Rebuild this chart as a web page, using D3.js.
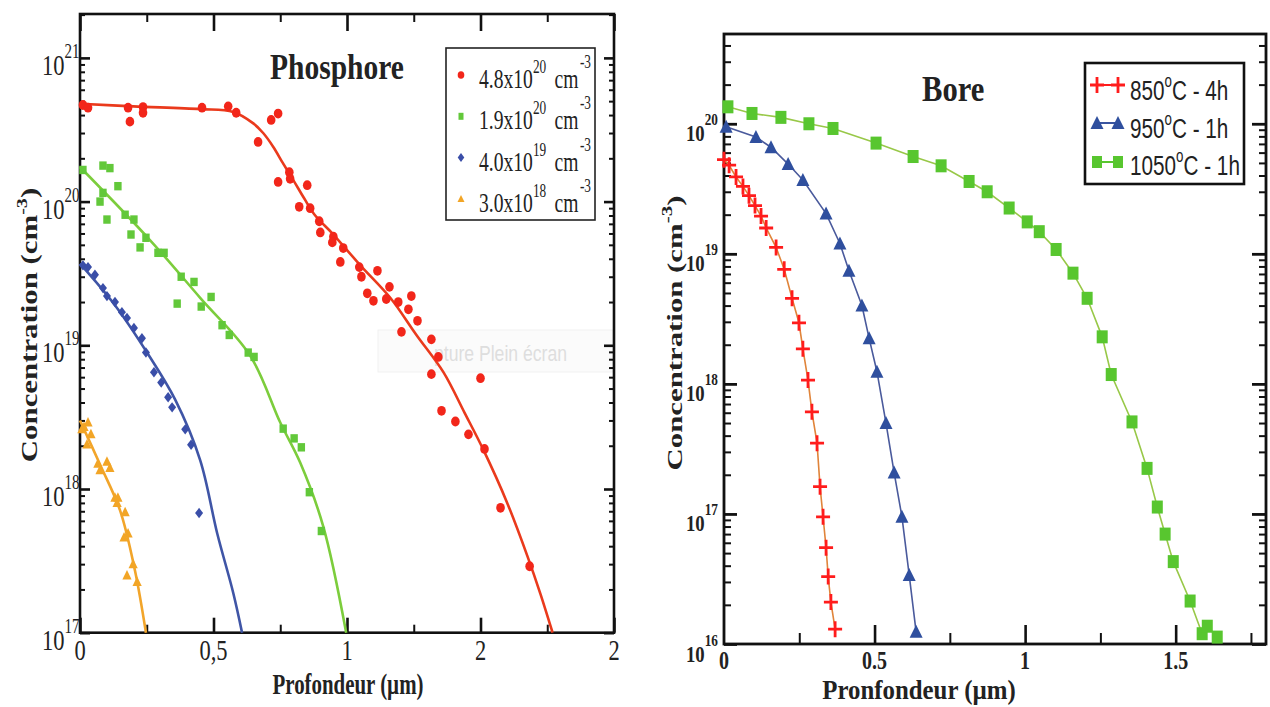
<!DOCTYPE html>
<html><head><meta charset="utf-8">
<script src="https://cdn.jsdelivr.net/npm/d3@7"></script>
<style>body{margin:0;background:#fff}svg{display:block}</style>
</head><body><svg id="c" width="1270" height="707"></svg>
<script>
// ---------------- DATA ----------------
// Left chart: Phosphore  [depth (µm), concentration (cm^-3)]
const phosLegend = [["4.8","20"],["1.9","20"],["4.0","19"],["3.0","18"]];
const phosXTickValues = [0, 0.5, 1, 1.5, 2];
const phosXTickLabels = ["0", "0,5", "1", "2", "2"];
const phosYTickValues = [1e17, 1e18, 1e19, 1e20, 1e21];
const phosYTickExp = ["17", "18", "19", "20", "21"];

const p48Points = [[0.011,4.7e20],[0.03,4.5e20],[0.18,4.5e20],[0.187,3.6e20],[0.236,4.55e20],[0.236,4.15e20],
 [0.457,4.5e20],[0.555,4.6e20],[0.585,4.15e20],[0.667,2.6e20],[0.716,3.7e20],[0.742,4.1e20],[0.742,1.37e20],
 [0.784,1.6e20],[0.787,1.44e20],[0.851,1.3e20],[0.821,9.2e19],[0.862,9.0e19],[0.896,7.3e19],[0.9,6.1e19],
 [0.949,5.7e19],[0.945,5.2e19],[0.986,4.75e19],[0.975,3.8e19],[1.046,3.5e19],[1.054,3.0e19],[1.114,3.3e19],
 [1.076,2.3e19],[1.099,2.04e19],[1.147,2.1e19],[1.159,2.55e19],[1.192,2.0e19],[1.23,1.78e19],[1.241,2.2e19],
 [1.264,1.48e19],[1.204,1.24e19],[1.316,1.1e19],[1.342,8.3e18],[1.316,6.3e18],[1.5,5.9e18],[1.354,3.5e18],
 [1.406,2.95e18],[1.455,2.4e18],[1.515,1.9e18],[1.575,7.4e17],[1.684,2.9e17]];
const p48Fit = [[0,4.8e20],[0.2,4.6e20],[0.45,4.4e20],[0.574,4.2e20],[0.649,3.5e20],[0.686,3.0e20],[0.724,2.4e20],
 [0.76,1.85e20],[0.8,1.4e20],[0.84,1.05e20],[0.881,8.0e19],[0.949,5.9e19],[1.05,3.6e19],[1.162,2.14e19],
 [1.26,1.18e19],[1.361,6.5e18],[1.44,3.4e18],[1.511,1.87e18],[1.6,8.0e17],[1.676,3.4e17],[1.725,1.85e17],[1.77,1e17]];

const p19Points = [[0.011,1.66e20],[0.086,1.78e20],[0.112,1.71e20],[0.142,1.28e20],[0.075,1.0e20],[0.086,1.15e20],
 [0.101,7.5e19],[0.169,8.1e19],[0.202,7.5e19],[0.191,5.9e19],[0.247,5.6e19],[0.225,4.8e19],[0.292,4.4e19],
 [0.315,4.4e19],[0.379,3.0e19],[0.427,2.76e19],[0.364,1.95e19],[0.454,1.86e19],[0.491,2.17e19],[0.532,1.38e19],
 [0.559,1.18e19],[0.63,8.9e18],[0.652,8.3e18],[0.761,2.63e18],[0.802,2.25e18],[0.829,1.95e18],[0.859,9.5e17],[0.904,5.1e17]];
const p19Fit = [[0,1.74e20],[0.262,5.4e19],[0.45,2.14e19],[0.637,8.5e18],[0.75,2.9e18],[0.825,1.52e18],[0.911,5.5e17],[0.997,1e17]];

const p40Points = [[0.011,3.6e19],[0.03,3.5e19],[0.056,3.1e19],[0.086,2.5e19],[0.101,2.2e19],[0.131,2.0e19],
 [0.157,1.7e19],[0.176,1.55e19],[0.202,1.32e19],[0.232,1.12e19],[0.247,8.9e18],[0.277,6.5e18],[0.304,5.5e18],
 [0.33,4.35e18],[0.345,3.7e18],[0.394,2.6e18],[0.416,2.03e18],[0.446,6.8e17]];
const p40Fit = [[0,3.7e19],[0.131,1.9e19],[0.251,8.9e18],[0.356,4.2e18],[0.45,1.59e18],[0.514,4.9e17],[0.574,1.89e17],[0.607,1e17]];

const p30Points = [[0.015,2.7e18],[0.03,2.9e18],[0.007,2.6e18],[0.041,2.4e18],[0.026,2.04e18],[0.067,1.5e18],
 [0.101,1.55e18],[0.075,1.35e18],[0.112,1.4e18],[0.131,8.7e17],[0.142,8.7e17],[0.139,8.0e17],[0.169,6.9e17],
 [0.18,4.9e17],[0.165,4.6e17],[0.199,3.0e17],[0.176,2.5e17],[0.214,2.25e17]];
const p30Fit = [[0,3.0e18],[0.075,1.48e18],[0.15,7.1e17],[0.206,2.7e17],[0.247,1e17]];

// Right chart: Bore
const boreLegend = [["850","C - 4h"],["950","C - 1h"],["1050","C - 1h"]];
const boreXTickValues = [0, 0.5, 1, 1.5];
const boreXTickLabels = ["0", "0.5", "1", "1.5"];
const boreYTickValues = [1e16, 1e17, 1e18, 1e19, 1e20];
const boreYTickExp = ["16", "17", "18", "19", "20"];

const b850 = [[0.0,5.3e19],[0.017,4.8e19],[0.04,3.9e19],[0.063,3.3e19],[0.083,2.8e19],[0.103,2.35e19],[0.123,1.95e19],
 [0.14,1.58e19],[0.173,1.12e19],[0.2,7.6e18],[0.226,4.55e18],[0.249,2.95e18],[0.262,1.86e18],[0.279,1.07e18],
 [0.292,6.1e17],[0.309,3.5e17],[0.319,1.62e17],[0.329,9.5e16],[0.339,5.5e16],[0.346,3.3e16],[0.355,2.1e16],[0.369,1.3e16]];
const b950 = [[0.007,9.5e19],[0.106,7.9e19],[0.156,6.6e19],[0.213,4.9e19],[0.262,3.7e19],[0.339,2.04e19],[0.385,1.2e19],
 [0.415,7.4e18],[0.458,4.0e18],[0.482,2.24e18],[0.508,1.24e18],[0.538,5.0e17],[0.565,2.08e17],[0.591,9.5e16],
 [0.615,3.4e16],[0.638,1.24e16]];
const b1050 = [[0.013,1.35e20],[0.093,1.2e20],[0.189,1.12e20],[0.282,1.0e20],[0.362,9.2e19],[0.505,7.1e19],[0.628,5.6e19],
 [0.721,4.75e19],[0.814,3.6e19],[0.874,3.0e19],[0.947,2.25e19],[1.007,1.76e19],[1.047,1.48e19],[1.103,1.08e19],
 [1.159,7.1e18],[1.206,4.55e18],[1.256,2.3e18],[1.286,1.18e18],[1.355,5.1e17],[1.405,2.24e17],[1.439,1.13e17],
 [1.465,7.0e16],[1.492,4.3e16],[1.548,2.14e16],[1.588,1.2e16],[1.605,1.37e16],[1.638,1.13e16]];

// ---------------- DRAW ----------------
const svg = d3.select('#c');
const SERIF = 'Liberation Serif, Times New Roman, serif';
const SANS = 'Liberation Sans, Arial, sans-serif';

function logTicks(domain){
  const maj = [], min = [];
  const a = Math.floor(Math.log10(domain[0])), b = Math.ceil(Math.log10(domain[1]));
  for (let k = a; k <= b; k++){
    for (let m = 1; m <= 9; m++){
      const v = m * Math.pow(10, k);
      if (v < domain[0]*0.999 || v > domain[1]*1.001) continue;
      (m === 1 ? maj : min).push(v);
    }
  }
  return {maj, min};
}
function drawAxis(g, axisFn, scale, pos, vals, size, width){
  const ax = axisFn(scale).tickValues(vals).tickSize(size).tickFormat('');
  const sel = g.append('g').attr('transform', pos).call(ax);
  sel.select('.domain').remove();
  sel.selectAll('line').attr('stroke', '#111').attr('stroke-width', width);
}

// ===== LEFT CHART =====
const xL = d3.scaleLinear().domain([0, 2]).range([80, 614]);
const yL = d3.scaleLog().domain([1e17, 2.02e21]).range([632.7, 14]);
const gL = svg.append('g');

// watermark artifact
gL.append('rect').attr('x', 378).attr('y', 330).attr('width', 235).attr('height', 42)
  .attr('fill', '#fbfbfb').attr('stroke', '#f1f1f1');
gL.append('text').attr('transform', 'translate(434,361) scale(0.8,1)').attr('font-family', SANS)
  .attr('font-size', 22).attr('fill', '#dedede').text('pture Plein écran');

const ltL = logTicks(yL.domain());
drawAxis(gL, d3.axisRight, yL, 'translate(80,0)', ltL.maj, 10, 2.6);
drawAxis(gL, d3.axisRight, yL, 'translate(80,0)', ltL.min, 5, 2);
drawAxis(gL, d3.axisLeft, yL, 'translate(614,0)', ltL.maj, 10, 2.6);
drawAxis(gL, d3.axisLeft, yL, 'translate(614,0)', ltL.min, 5, 2);
const xMajL = phosXTickValues, xMinL = [0.25, 0.75, 1.25, 1.75];
drawAxis(gL, d3.axisBottom, xL, 'translate(0,14)', xMajL, 17, 2.6);
drawAxis(gL, d3.axisBottom, xL, 'translate(0,14)', xMinL, 8, 2);
drawAxis(gL, d3.axisTop, xL, 'translate(0,632.7)', xMajL, 15, 2.6);
drawAxis(gL, d3.axisTop, xL, 'translate(0,632.7)', xMinL, 8, 2);
gL.append('rect').attr('x', 80).attr('y', 14).attr('width', 534).attr('height', 618.7)
  .attr('fill', 'none').attr('stroke', '#111').attr('stroke-width', 2.6);

// tick labels
phosYTickValues.forEach((v, i) => {
  const t = gL.append('text').attr('transform', `translate(42,${yL(v) + 17}) scale(0.75,1)`)
    .attr('font-family', SERIF).attr('font-size', 30).attr('fill', '#222').text('10');
  t.append('tspan').attr('font-size', 20).attr('dy', -17).attr('dx', 0).text(phosYTickExp[i]);
});
phosXTickValues.forEach((v, i) => {
  gL.append('text').attr('transform', `translate(${xL(v)},660) scale(0.75,1)`)
    .attr('font-family', SERIF).attr('font-size', 30).attr('fill', '#222').attr('text-anchor', 'middle')
    .text(phosXTickLabels[i]);
});

// fits
const lineL = d3.line().x(d => xL(d[0])).y(d => yL(d[1])).curve(d3.curveCatmullRom.alpha(0.5));
const fitsL = [[p48Fit, '#ea3a1c'], [p19Fit, '#7ccd3c'], [p40Fit, '#3f55a6'], [p30Fit, '#f2a52a']];
fitsL.forEach(([d, c]) => gL.append('path').datum(d).attr('d', lineL).attr('fill', 'none')
  .attr('stroke', c).attr('stroke-width', 2.6));

// points
gL.selectAll('.p48').data(p48Points).join('ellipse').attr('cx', d => xL(d[0])).attr('cy', d => yL(d[1]))
  .attr('rx', 4.3).attr('ry', 4.9).attr('fill', '#f2261a');
gL.selectAll('.p19').data(p19Points).join('rect').attr('x', d => xL(d[0]) - 3.7).attr('y', d => yL(d[1]) - 4.2)
  .attr('width', 7.4).attr('height', 8.4).attr('fill', '#62c83a');
gL.selectAll('.p40').data(p40Points).join('path')
  .attr('d', d => { const x = xL(d[0]), y = yL(d[1]); return `M${x},${y-5.2}L${x+4},${y}L${x},${y+5.2}L${x-4},${y}Z`; })
  .attr('fill', '#3a4ea8');
gL.selectAll('.p30').data(p30Points).join('path')
  .attr('d', d => { const x = xL(d[0]), y = yL(d[1]); return `M${x},${y-5.5}L${x+4.6},${y+4}L${x-4.6},${y+4}Z`; })
  .attr('fill', '#f2a526');

// title
gL.append('text').attr('transform', 'translate(270,79) scale(0.82,1)').attr('font-family', SERIF)
  .attr('font-weight', 'bold').attr('font-size', 36).attr('fill', '#222').text('Phosphore');

// legend
gL.append('rect').attr('x', 446).attr('y', 48).attr('width', 149).attr('height', 172)
  .attr('fill', '#fff').attr('stroke', '#222').attr('stroke-width', 1.6);
const legColsL = ['#f2261a', '#62c83a', '#3a4ea8', '#f2a526'];
phosLegend.forEach((d, i) => {
  const base = 88 + i * 41.3, my = base - 13, mx = 461;
  const c = legColsL[i];
  if (i === 0) gL.append('ellipse').attr('cx', mx).attr('cy', my).attr('rx', 3.3).attr('ry', 3.8).attr('fill', c);
  if (i === 1) gL.append('rect').attr('x', mx - 2.5).attr('y', my - 3.5).attr('width', 5).attr('height', 7).attr('fill', c);
  if (i === 2) gL.append('path').attr('d', `M${mx},${my-4.5}L${mx+3.3},${my}L${mx},${my+4.5}L${mx-3.3},${my}Z`).attr('fill', c);
  if (i === 3) gL.append('path').attr('d', `M${mx},${my-4}L${mx+3.5},${my+3}L${mx-3.5},${my+3}Z`).attr('fill', c);
  const t = gL.append('text').attr('transform', `translate(479,${base}) scale(0.7,1)`)
    .attr('font-family', SERIF).attr('font-size', 28).attr('fill', '#222');
  t.append('tspan').text(d[0] + 'x10');
  t.append('tspan').attr('font-size', 19).attr('dy', -15).attr('dx', 0).text(d[1]);
  t.append('tspan').attr('dy', 15).attr('dx', 12).text('cm');
  t.append('tspan').attr('font-size', 19).attr('dy', -20).attr('dx', 2).text('-3');
});

// axis titles
gL.append('text').attr('transform', 'translate(348,694) scale(0.72,1)').attr('text-anchor', 'middle')
  .attr('font-family', SERIF).attr('font-weight', 'bold').attr('font-size', 29).attr('fill', '#222')
  .text('Profondeur (µm)');
{
  const t = gL.append('text').attr('transform', 'translate(37,325) rotate(-90) scale(1.34,1)')
    .attr('text-anchor', 'middle').attr('font-family', SERIF).attr('font-weight', 'bold')
    .attr('font-size', 23).attr('fill', '#222');
  t.append('tspan').text('Concentration (cm');
  t.append('tspan').attr('font-size', 15).attr('dy', -10).text('-3');
  t.append('tspan').attr('dy', 10).text(')');
}

// ===== RIGHT CHART =====
const xR = d3.scaleLinear().domain([0, 1.8]).range([724, 1266]);
const yR = d3.scaleLog().domain([1e16, 4.9e20]).range([644, 34]);
const gR = svg.append('g');
const ltR = logTicks(yR.domain());
drawAxis(gR, d3.axisRight, yR, 'translate(724,0)', ltR.maj, 13, 2.8);
drawAxis(gR, d3.axisRight, yR, 'translate(724,0)', ltR.min, 7, 2);
drawAxis(gR, d3.axisLeft, yR, 'translate(1266,0)', ltR.maj, 14, 2.8);
drawAxis(gR, d3.axisLeft, yR, 'translate(1266,0)', ltR.min, 7, 2);
drawAxis(gR, d3.axisTop, xR, 'translate(0,644)', [0.5, 1, 1.5], 19, 2.6);
drawAxis(gR, d3.axisTop, xR, 'translate(0,644)', [0.25, 0.75, 1.25, 1.75], 11, 2);
gR.append('rect').attr('x', 724).attr('y', 34).attr('width', 542).attr('height', 610)
  .attr('fill', 'none').attr('stroke', '#111').attr('stroke-width', 2.8);

boreYTickValues.forEach((v, i) => {
  const t = gR.append('text').attr('transform', `translate(686,${yR(v) + 17.5}) scale(0.78,1)`)
    .attr('font-family', SERIF).attr('font-weight', 'bold').attr('font-size', 24).attr('fill', '#222').text('10');
  t.append('tspan').attr('font-size', 17).attr('dy', -16).attr('dx', 0).text(boreYTickExp[i]);
});
boreXTickValues.forEach((v, i) => {
  gR.append('text').attr('transform', `translate(${xR(v)},669) scale(0.8,1)`)
    .attr('font-family', SERIF).attr('font-weight', 'bold').attr('font-size', 25).attr('fill', '#222')
    .attr('text-anchor', 'middle').text(boreXTickLabels[i]);
});

const lineR = d3.line().x(d => xR(d[0])).y(d => yR(d[1]));
gR.append('path').datum(b1050).attr('d', lineR).attr('fill', 'none').attr('stroke', '#98c848').attr('stroke-width', 1.6);
gR.append('path').datum(b950).attr('d', lineR).attr('fill', 'none').attr('stroke', '#4a5a9c').attr('stroke-width', 1.6);
gR.append('path').datum(b850).attr('d', lineR).attr('fill', 'none').attr('stroke', '#e0843a').attr('stroke-width', 1.6);

const crossPath = (x, y) => `M${x-7},${y}H${x+7}M${x},${y-8}V${y+8}`;
const triPath = (x, y) => `M${x},${y-7}L${x+6.5},${y+6}L${x-6.5},${y+6}Z`;
gR.selectAll('.sq').data(b1050).join('rect').attr('x', d => xR(d[0]) - 5.5).attr('y', d => yR(d[1]) - 6.5)
  .attr('width', 11).attr('height', 13).attr('fill', '#58c62f');
gR.selectAll('.tr').data(b950).join('path').attr('d', d => triPath(xR(d[0]), yR(d[1]))).attr('fill', '#2f4f9e');
gR.selectAll('.cr').data(b850).join('path').attr('d', d => crossPath(xR(d[0]), yR(d[1])))
  .attr('stroke', '#ff1c1c').attr('stroke-width', 2.8).attr('fill', 'none');

gR.append('text').attr('transform', 'translate(922,101) scale(0.85,1)').attr('font-family', SERIF)
  .attr('font-weight', 'bold').attr('font-size', 36).attr('fill', '#222').text('Bore');

// legend
gR.append('rect').attr('x', 1085).attr('y', 63).attr('width', 159).attr('height', 121)
  .attr('fill', '#fff').attr('stroke', '#111').attr('stroke-width', 2.6);
boreLegend.forEach((d, i) => {
  const base = [100, 138, 175][i], my = [85, 123, 162][i];
  const lc = ['#ff1c1c', '#3a55a0', '#58c62f'][i];
  gR.append('line').attr('x1', 1097).attr('x2', 1118).attr('y1', my).attr('y2', my).attr('stroke', lc).attr('stroke-width', 2);
  [1097, 1118].forEach(mx => {
    if (i === 0) gR.append('path').attr('d', crossPath(mx, my)).attr('stroke', '#ff1c1c').attr('stroke-width', 2.8);
    if (i === 1) gR.append('path').attr('d', triPath(mx, my)).attr('fill', '#2f4f9e');
    if (i === 2) gR.append('rect').attr('x', mx - 5).attr('y', my - 6).attr('width', 10).attr('height', 12).attr('fill', '#58c62f');
  });
  const t = gR.append('text').attr('transform', `translate(1130,${base}) scale(0.74,1)`)
    .attr('font-family', SANS).attr('font-size', 28).attr('fill', '#222');
  t.append('tspan').text(d[0]);
  t.append('tspan').attr('font-size', 18).attr('dy', -13).text('o');
  t.append('tspan').attr('dy', 13).text(d[1]);
});

gR.append('text').attr('transform', 'translate(919,699) scale(0.92,1)').attr('text-anchor', 'middle')
  .attr('font-family', SERIF).attr('font-weight', 'bold').attr('font-size', 27).attr('fill', '#222')
  .text('Pronfondeur (µm)');
{
  const t = gR.append('text').attr('transform', 'translate(682,333) rotate(-90) scale(1.4,1)')
    .attr('text-anchor', 'middle').attr('font-family', SERIF).attr('font-weight', 'bold')
    .attr('font-size', 22).attr('fill', '#222');
  t.append('tspan').text('Concentration (cm');
  t.append('tspan').attr('font-size', 15).attr('dy', -10).text('-3');
  t.append('tspan').attr('dy', 10).text(')');
}
</script></body></html>
